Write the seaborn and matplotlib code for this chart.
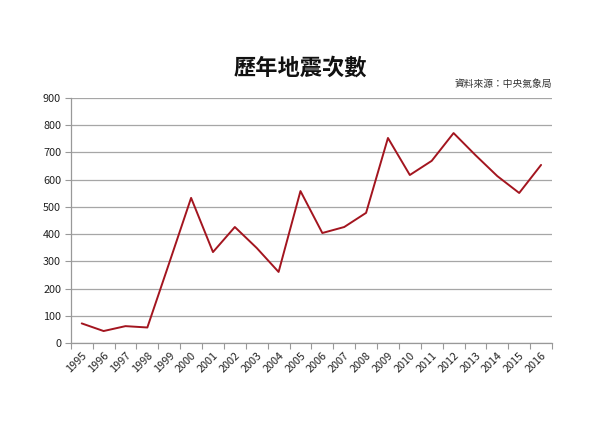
import matplotlib
matplotlib.use("Agg")
import matplotlib.pyplot as plt
import seaborn as sns
import pandas as pd
import numpy as np
from matplotlib.ticker import FixedLocator

years = list(range(1995, 2017))
counts = [72, 44, 62, 57, 294, 533, 334, 426, 349, 261, 558, 404, 426, 478,
          753, 617, 669, 771, 690, 613, 551, 654]
title = "歷年地震次數"
source = "資料來源：中央氣象局"
yticks = [0, 100, 200, 300, 400, 500, 600, 700, 800, 900]

sns.set_theme(style="white")
plt.rcParams['font.family'] = ['Noto Sans CJK TC', 'DejaVu Sans']

df = pd.DataFrame({"year": years, "count": counts})

fig = plt.figure(figsize=(6.0, 4.24), dpi=100)
ax = fig.add_axes([0.118, 0.191, 0.802, 0.578])
sns.lineplot(data=df, x="year", y="count", ax=ax, color="#A3151F", linewidth=1.4)

ax.set_xlim(years[0] - 0.5, years[-1] + 0.5)
ax.set_ylim(0, 900)
ax.set_yticks(yticks)
ax.set_yticklabels([str(v) for v in yticks], fontsize=7.8, color="#222222")
ax.set_xticks(years)
ax.set_xticklabels([str(y) for y in years], rotation=45, ha="right",
                   rotation_mode="anchor", fontsize=7.8, color="#222222")
ax.xaxis.set_minor_locator(FixedLocator(np.arange(years[0] - 0.5, years[-1] + 1.0, 1.0)))
ax.tick_params(axis="x", which="major", length=0, pad=5)
ax.tick_params(axis="x", which="minor", length=4, color="#999999", width=0.8, bottom=True)
ax.tick_params(axis="y", which="major", length=4, color="#999999", width=0.8, left=True, pad=3)
ax.set_xlabel("")
ax.set_ylabel("")
ax.grid(axis="y", color="#A6A6A6", linewidth=0.9)
ax.set_axisbelow(True)
for s in ["top", "right"]:
    ax.spines[s].set_visible(False)
for s in ["left", "bottom"]:
    ax.spines[s].set_color("#999999")
    ax.spines[s].set_linewidth(0.9)

fig.text(0.50, 0.84, title, ha="center", va="center", fontsize=16, fontweight="bold", color="#111111")
fig.text(0.92, 0.803, source, ha="right", va="center", fontsize=7, color="#333333")

fig.savefig("out.png", dpi=100, facecolor="white")
